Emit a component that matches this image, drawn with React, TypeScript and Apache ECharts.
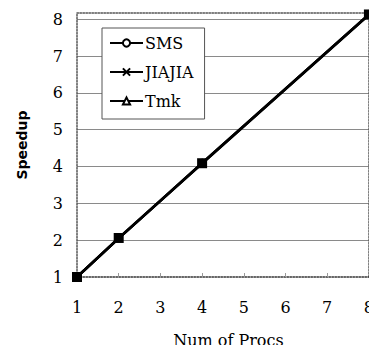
import React, { useEffect, useRef } from "react";
import * as echarts from "echarts";

const procs = [1, 2, 4, 8];
const smsSpeedup = [1.0, 2.06, 4.09, 8.13];
const jiajiaSpeedup = [1.0, 2.05, 4.08, 8.12];
const tmkSpeedup = [1.0, 2.05, 4.1, 8.13];
const xTicks = [1, 2, 3, 4, 5, 6, 7, 8];
const seriesNames = ["SMS", "JIAJIA", "Tmk"];

const pairs = (ys: number[]) => procs.map((x, i) => [x, ys[i]]);

const serif = "DejaVu Serif";
const fs = 16;

export default function App() {
  const ref = useRef<HTMLDivElement>(null);
  useEffect(() => {
    if (!ref.current) return;
    const chart = echarts.init(ref.current, null, { renderer: "svg" });
    const lineBase = {
      type: "line" as const,
      lineStyle: { color: "#000", width: 2.5 },
      itemStyle: { color: "#000", borderColor: "#000", borderWidth: 1.5 },
      symbolSize: 5,
      z: 3,
    };
    chart.setOption({
      animation: false,
      backgroundColor: "#fff",
      textStyle: { fontFamily: serif, fontSize: fs, color: "#000" },
      grid: { left: 77, right: 5, top: 13, bottom: 70 },
      legend: {
        data: seriesNames,
        orient: "vertical",
        left: 102,
        top: 28,
        backgroundColor: "#fff",
        borderColor: "#555",
        borderWidth: 1,
        padding: [6, 11, 9, 7],
        itemWidth: 33,
        itemHeight: 9,
        itemGap: 11,
        textStyle: { fontFamily: serif, fontSize: fs, color: "#000", lineHeight: 18, padding: [0, 0, 0, -3] },
        z: 10,
      },
      xAxis: [
        {
          type: "value",
          min: 1,
          max: 8,
          interval: 1,
          data: xTicks,
          axisLine: { show: true, lineStyle: { color: "#333", type: "dotted", width: 1.5 } },
          axisTick: { show: true, inside: true, length: 4, lineStyle: { color: "#999" } },
          axisLabel: { fontFamily: serif, fontSize: fs, color: "#000", margin: 22 },
          splitLine: { show: false },
          name: "Num of Procs",
          nameLocation: "middle",
          nameGap: 55,
          nameTextStyle: { fontFamily: serif, fontSize: fs, color: "#000", padding: [0, 0, 0, 11] },
        },
        {
          type: "value",
          position: "top",
          min: 1,
          max: 8,
          axisLine: { show: true, lineStyle: { color: "#555", type: "dotted", width: 1.5 } },
          axisTick: { show: false },
          axisLabel: { show: false },
          splitLine: { show: false },
        },
      ],
      yAxis: [
        {
          type: "value",
          min: 1,
          max: 8.17,
          interval: 1,
          axisLine: { show: true, lineStyle: { color: "#555", type: "dotted", width: 1.5 } },
          axisTick: { show: false },
          axisLabel: {
            fontFamily: serif,
            fontSize: fs,
            color: "#000",
            margin: 14,
            formatter: (v: number) => (Number.isInteger(v) ? String(v) : ""),
          },
          splitLine: { show: true, showMinLine: false, showMaxLine: false, lineStyle: { color: "#8a8a8a", width: 1 } },
          name: "Speedup",
          nameLocation: "middle",
          nameRotate: 90,
          nameGap: 48,
          nameTextStyle: { fontFamily: "DejaVu Sans", fontSize: 14, fontWeight: "bold", color: "#000" },
        },
        {
          type: "value",
          position: "right",
          min: 1,
          max: 8.17,
          axisLine: { show: true, lineStyle: { color: "#555", type: "dotted", width: 1.5 } },
          axisTick: { show: false },
          axisLabel: { show: false },
          splitLine: { show: false },
        },
      ],
      series: [
        { ...lineBase, name: "SMS", symbol: "emptyCircle", data: pairs(smsSpeedup) },
        { ...lineBase, name: "JIAJIA", symbol: "path://M0,0L10,10M10,0L0,10", data: pairs(jiajiaSpeedup) },
        { ...lineBase, name: "Tmk", symbol: "emptyTriangle", data: pairs(tmkSpeedup) },
        {
          type: "line",
          name: "markers",
          symbol: "rect",
          symbolSize: 10,
          lineStyle: { width: 0 },
          itemStyle: { color: "#000" },
          data: pairs(smsSpeedup),
          z: 5,
        },
      ],
    });
    return () => chart.dispose();
  }, []);
  return <div ref={ref} style={{ width: 377, height: 353, margin: -8 }} />;
}
